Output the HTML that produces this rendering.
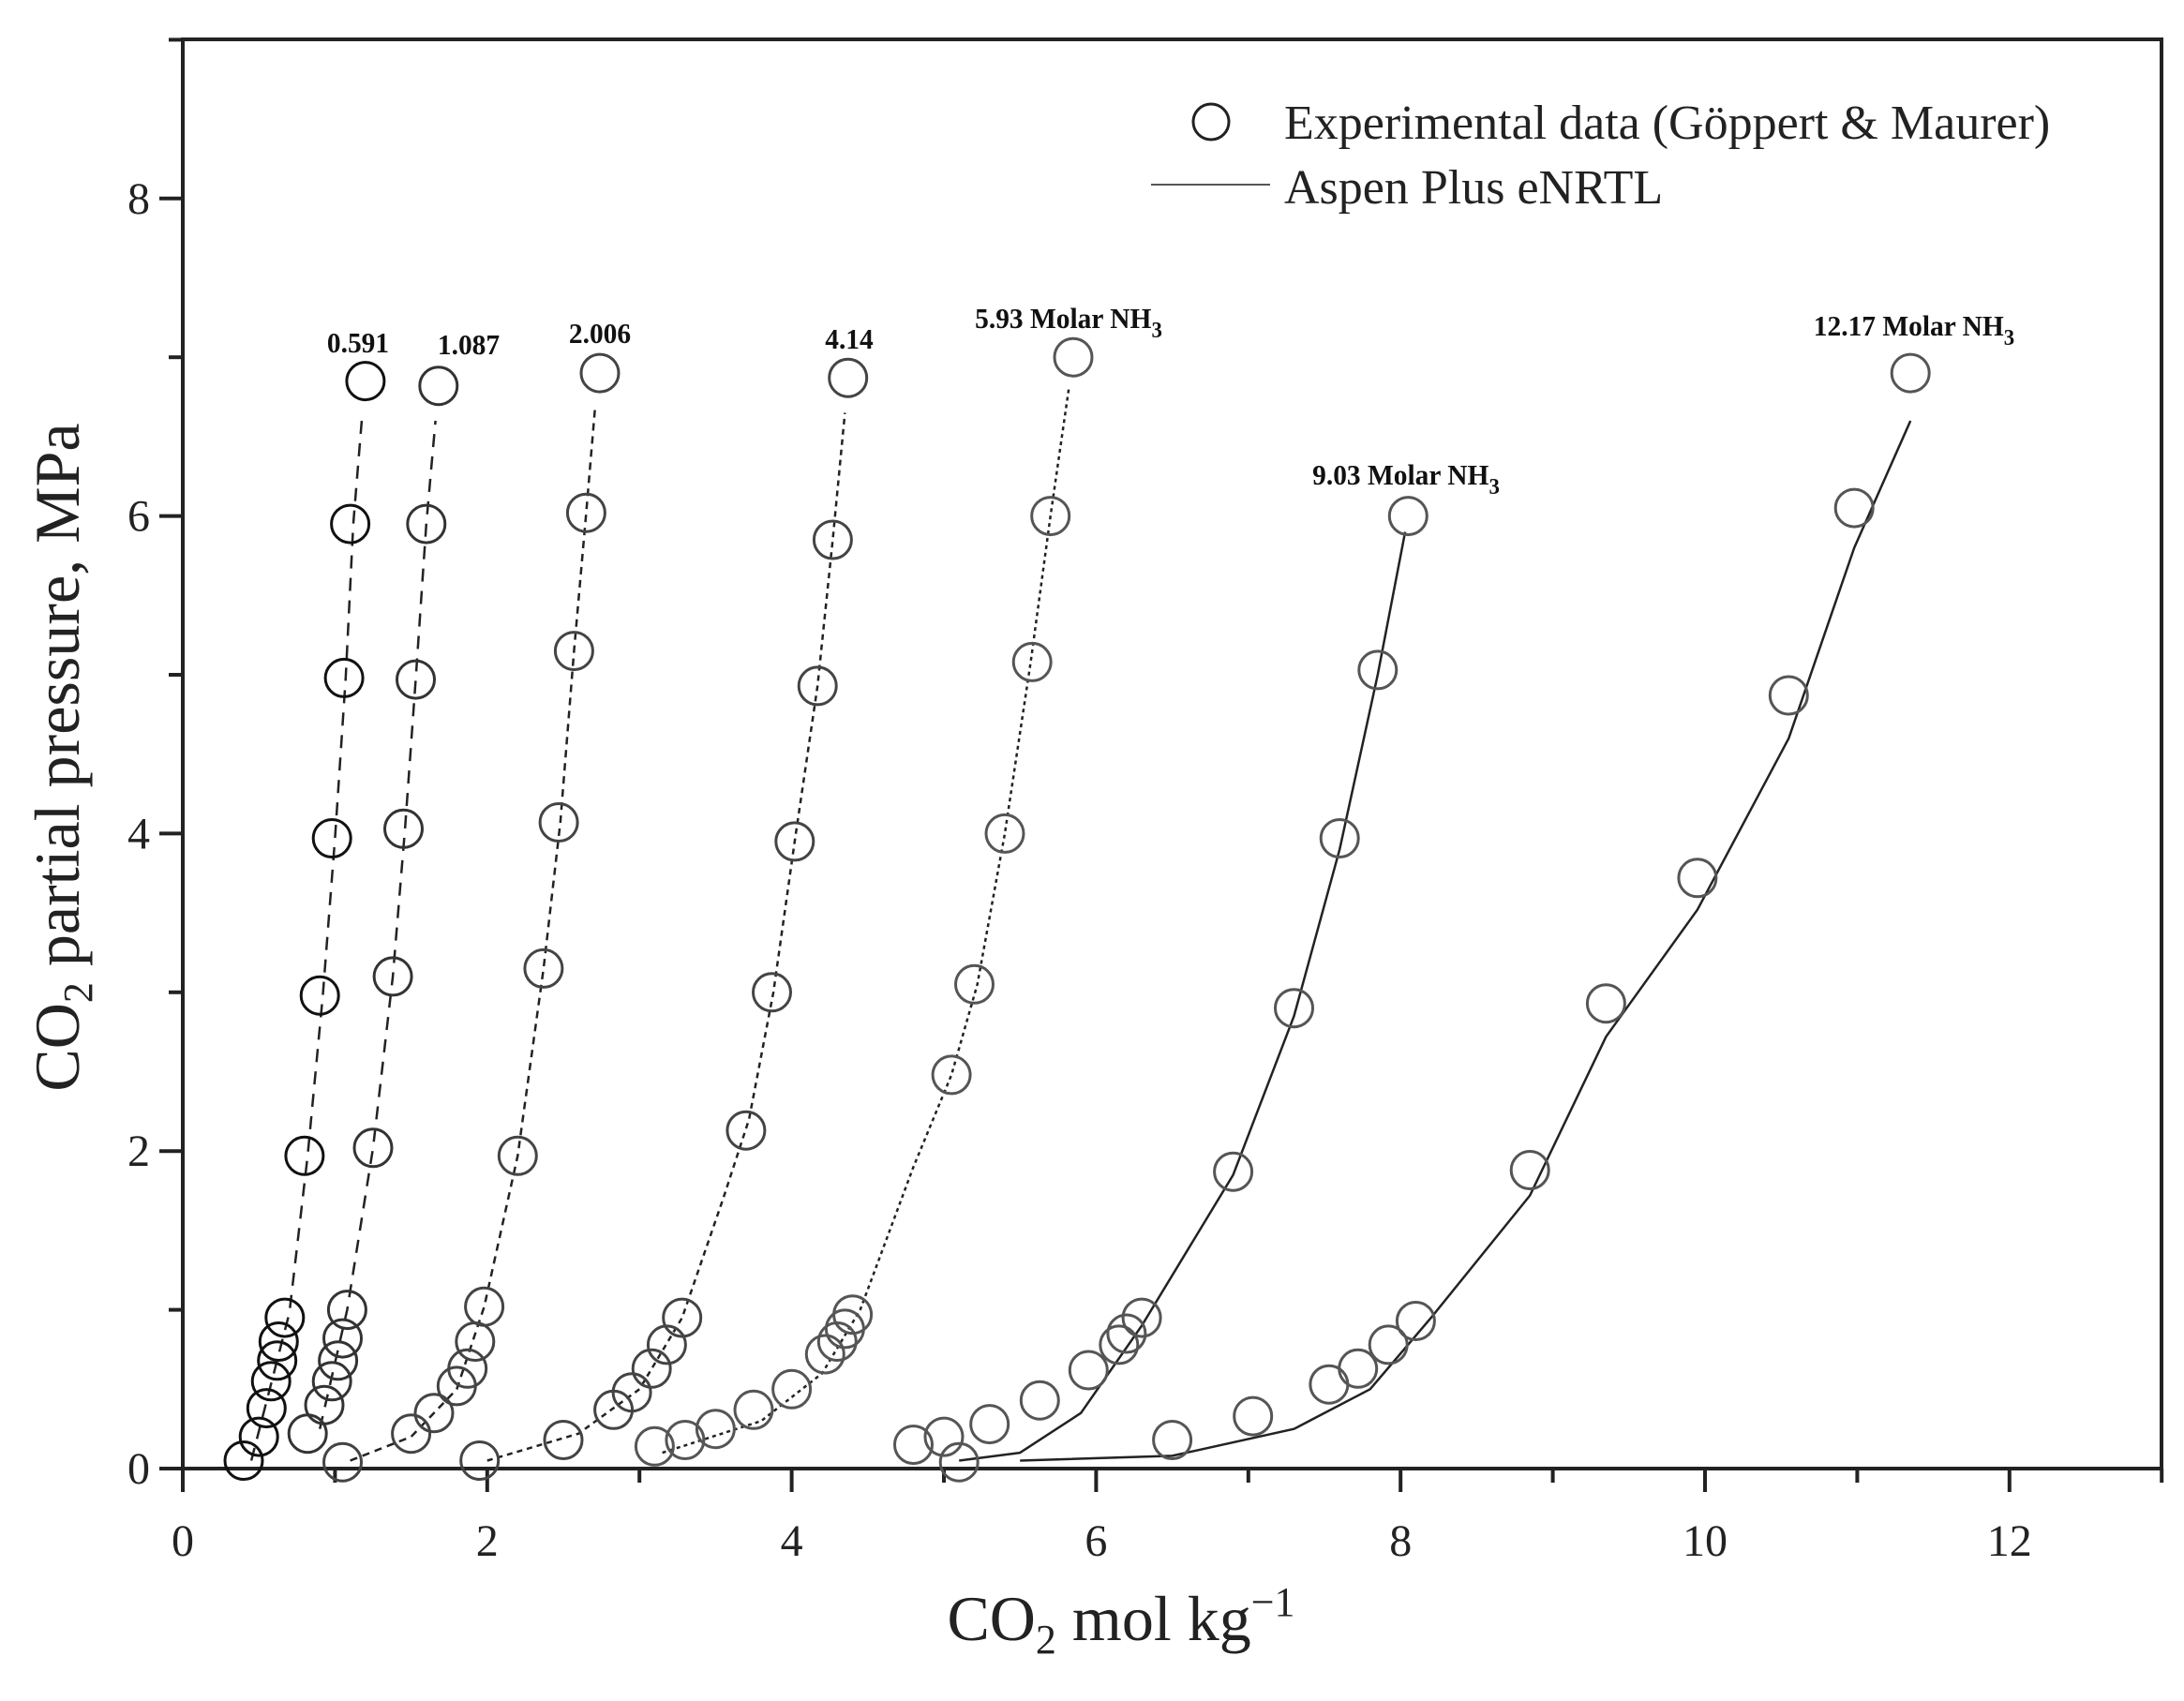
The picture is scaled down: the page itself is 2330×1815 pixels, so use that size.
<!DOCTYPE html>
<html><head><meta charset="utf-8"><style>
html,body{margin:0;padding:0;background:#fff;}
svg{display:block;font-family:"Liberation Serif",serif;}
</style></head><body>
<svg id="s" width="2330" height="1815" viewBox="0 0 2330 1815" xmlns="http://www.w3.org/2000/svg"></svg>
<script>
const X0=195,XS=162.4,Y0=1567,YS=169.4;
const px=x=>X0+x*XS, py=y=>Y0-y*YS;
let h='';
h+=`<rect x="195" y="42" width="2111" height="1525" fill="none" stroke="#222" stroke-width="4"/>`;
for(let v=0;v<=13;v++){const x=px(v);const L=(v%2==0)?25:15;h+=`<line x1="${x}" y1="1567" x2="${x}" y2="${1567+L}" stroke="#222" stroke-width="4"/>`;
 if(v%2==0&&v<=12)h+=`<text x="${x}" y="1660" font-size="48" text-anchor="middle" fill="#222">${v}</text>`;}
for(let v=0;v<=9;v++){const y=py(v);const L=(v%2==0)?25:15;h+=`<line x1="${195-L}" y1="${y}" x2="195" y2="${y}" stroke="#222" stroke-width="4"/>`;
 if(v%2==0)h+=`<text x="160" y="${y+16}" font-size="48" text-anchor="end" fill="#222">${v}</text>`;}
h+=`<text x="1196" y="1750" font-size="68" text-anchor="middle" fill="#222">CO<tspan font-size="44" dy="14">2</tspan><tspan dy="-14"> mol kg</tspan><tspan font-size="44" dy="-26">−1</tspan></text>`;
h+=`<text transform="translate(84,808) rotate(-90)" font-size="68" text-anchor="middle" fill="#222">CO<tspan font-size="44" dy="14">2</tspan><tspan dy="-14"> partial pressure, MPa</tspan></text>`;
h+=`<circle cx="1292" cy="130" r="19" fill="none" stroke="#222" stroke-width="3"/>`;
h+=`<text x="1370" y="148" font-size="52" fill="#222">Experimental data (Göppert &amp; Maurer)</text>`;
h+=`<line x1="1228" y1="197" x2="1355" y2="197" stroke="#555" stroke-width="2"/>`;
h+=`<text x="1370" y="217" font-size="52" fill="#222">Aspen Plus eNRTL</text>`;
const S=[
 {c:'#111',d:'14,10',l:[[0.45,0.05],[0.7,0.98],[0.82,1.97],[0.92,2.98],[1.0,3.97],[1.07,4.98],[1.12,5.95],[1.18,6.65]],
  p:[[0.4,0.05],[0.5,0.2],[0.55,0.38],[0.58,0.55],[0.62,0.68],[0.63,0.8],[0.67,0.95],[0.8,1.97],[0.9,2.98],[0.98,3.97],[1.06,4.98],[1.1,5.95],[1.2,6.85]]},
 {c:'#333',d:'14,10',l:[[0.9,0.25],[1.08,1.0],[1.25,2.02],[1.38,3.1],[1.46,4.03],[1.53,4.97],[1.6,5.95],[1.66,6.6]],
  p:[[0.82,0.22],[0.93,0.4],[0.98,0.55],[1.02,0.68],[1.05,0.82],[1.08,1.0],[1.25,2.02],[1.38,3.1],[1.45,4.03],[1.53,4.97],[1.6,5.95],[1.68,6.82]]},
 {c:'#444',d:'8,6',l:[[1.1,0.05],[1.5,0.2],[1.8,0.5],[1.98,1.02],[2.2,1.97],[2.37,3.15],[2.48,4.07],[2.57,5.15],[2.65,6.02],[2.71,6.7]],
  p:[[1.05,0.04],[1.5,0.22],[1.65,0.35],[1.8,0.52],[1.87,0.63],[1.92,0.8],[1.98,1.02],[2.2,1.97],[2.37,3.15],[2.47,4.07],[2.57,5.15],[2.65,6.02],[2.74,6.9]]},
 {c:'#444',d:'6,5',l:[[2.0,0.05],[2.6,0.22],[3.0,0.5],[3.28,0.95],[3.55,1.7],[3.72,2.2],[3.88,3.0],[4.02,3.95],[4.17,4.93],[4.27,5.85],[4.35,6.65]],
  p:[[1.95,0.05],[2.5,0.18],[2.83,0.37],[2.95,0.48],[3.08,0.63],[3.18,0.78],[3.28,0.95],[3.7,2.13],[3.87,3.0],[4.02,3.95],[4.17,4.93],[4.27,5.85],[4.37,6.87]]},
 {c:'#555',d:'4,4',l:[[3.15,0.1],[3.8,0.3],[4.2,0.6],[4.45,1.0],[4.8,1.9],[5.05,2.48],[5.22,3.05],[5.4,4.0],[5.57,5.08],[5.7,6.0],[5.82,6.8]],
  p:[[3.1,0.14],[3.3,0.18],[3.5,0.25],[3.75,0.37],[4.0,0.5],[4.22,0.72],[4.3,0.8],[4.35,0.88],[4.4,0.97],[5.05,2.48],[5.2,3.05],[5.4,4.0],[5.58,5.08],[5.7,6.0],[5.85,7.0]]},
 {c:'#555',d:'',l:[[5.1,0.05],[5.5,0.1],[5.9,0.35],[6.3,0.9],[6.9,1.85],[7.3,2.85],[7.6,3.9],[7.85,5.0],[8.03,5.9]],
  p:[[4.8,0.15],[5.0,0.2],[5.3,0.28],[5.63,0.43],[5.95,0.62],[6.15,0.78],[6.2,0.85],[6.3,0.95],[6.9,1.87],[7.3,2.9],[7.6,3.97],[7.85,5.03],[8.05,6.0]]},
 {c:'#555',d:'',l:[[5.5,0.05],[6.5,0.08],[7.3,0.25],[7.8,0.5],[8.2,0.95],[8.85,1.72],[9.35,2.72],[9.95,3.52],[10.55,4.6],[10.98,5.8],[11.35,6.6]],
  p:[[5.1,0.04],[6.5,0.18],[7.03,0.33],[7.53,0.53],[7.72,0.63],[7.92,0.78],[8.1,0.93],[8.85,1.88],[9.35,2.93],[9.95,3.72],[10.55,4.87],[10.98,6.05],[11.35,6.9]]}
];
for(const s of S){
 h+=`<polyline points="${s.l.map(q=>px(q[0]).toFixed(1)+','+py(q[1]).toFixed(1)).join(' ')}" fill="none" stroke="#222" stroke-width="2.5" stroke-linejoin="round" ${s.d?`stroke-dasharray="${s.d}"`:''}/>`;
 for(const q of s.p)h+=`<circle cx="${px(q[0]).toFixed(1)}" cy="${py(q[1]).toFixed(1)}" r="20" fill="none" stroke="${s.c}" stroke-width="3"/>`;
}
const lab=(x,y,t,sub)=>`<text x="${x}" y="${y}" font-size="31" font-weight="bold" text-anchor="middle" fill="#111" transform="translate(${x},0) scale(0.95,1) translate(${-x},0)">${t}${sub?'<tspan font-size="24" dy="10">3</tspan>':''}</text>`;
h+=lab(382,376,'0.591');h+=lab(500,378,'1.087');h+=lab(640,366,'2.006');h+=lab(906,372,'4.14');
h+=lab(1140,350,'5.93 Molar NH',1);h+=lab(1500,517,'9.03 Molar NH',1);h+=lab(2042,358,'12.17 Molar NH',1);
document.getElementById('s').innerHTML=h;
</script>
</body></html>
